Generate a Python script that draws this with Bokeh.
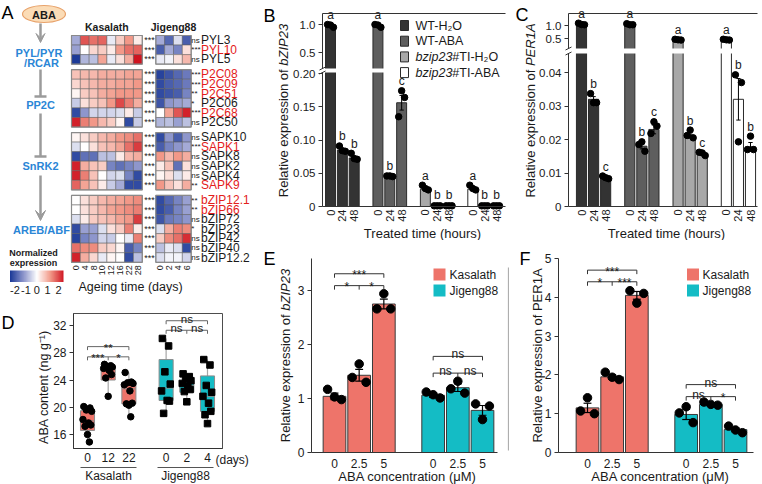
import numpy as np
from math import pi
from bokeh.plotting import figure
from bokeh.layouts import row, column
from bokeh.models import (Range1d, Label, FixedTicker, LinearAxis, LinearColorMapper,
                          Arrow, VeeHead, TeeHead, ColumnDataSource)
from bokeh.core.properties import value
from bokeh.embed import file_html
from bokeh.resources import INLINE

FONT = "Liberation Sans"
INK = "#1a1a1a"

# ======================= DATA =======================
# ---- Panel A (normalized expression heat map) ----
KAS_DAYS = ["0", "4", "8", "10", "12", "16", "22", "28"]
JIG_DAYS = ["0", "2", "4", "6"]
PATHWAY = ["PYL/PYR", "/RCAR", "PP2C", "SnRK2", "AREB/ABF"]
GENES_PYL = ["PYL3", "PYL10", "PYL5"]
GENES_PP2C = ["P2C08", "P2C09", "P2C51", "P2C06", "P2C68", "P2C50"]
GENES_SNRK2 = ["SAPK10", "SAPK1", "SAPK8", "SAPK2", "SAPK4", "SAPK9"]
GENES_AREB = ["bZIP12.1", "bZIP66", "bZIP72", "bZIP23", "bZIP42", "bZIP40", "bZIP12.2"]
RED_GENES = ["PYL10", "P2C08", "P2C09", "P2C51", "P2C68", "SAPK1", "SAPK9", "bZIP12.1", "bZIP66"]

KAS_PYL = [[-0.8, 1.5, 1.3, 1.4, -0.2, 0.5, 1.0, 0.2],
           [-0.9, 0.0, 0.4, 0.5, 0.2, 1.0, 1.3, 1.4],
           [-2.0, -0.7, -0.6, 0.9, -0.2, 0.3, 0.8, 2.0]]
KAS_PP2C = [[0.6, 0.7, 0.7, 0.8, 0.8, 0.8, 0.9, 0.9],
            [0.4, 0.6, 0.7, 0.8, 0.8, 0.9, 0.9, 1.0],
            [0.1, 0.5, 0.6, 0.8, 0.9, 1.0, 1.0, 1.0],
            [-0.5, 0.3, 0.5, 0.6, 1.0, 1.6, 1.2, 0.8],
            [-1.8, -1.0, -0.4, -0.4, -0.4, -0.3, 0.2, -0.5],
            [1.9, 1.2, 1.0, 0.7, 0.5, 0.1, -1.8, -0.5]]
KAS_SNRK2 = [[0.1, 0.3, 0.5, 0.7, 0.8, 1.0, 1.1, 1.3],
             [-0.3, 0.0, 0.3, 0.6, 0.7, 0.9, 1.3, 1.7],
             [-1.8, -1.4, -1.4, -0.6, -0.6, 0.2, 0.7, 0.8],
             [1.9, 0.8, 0.6, 0.5, -1.2, -1.4, -1.2, -1.0],
             [1.9, 1.2, 0.6, 0.0, -0.4, -0.3, -1.2, -1.8],
             [1.4, 0.9, 0.6, 0.2, -0.5, -0.8, -1.8, -1.8]]
KAS_AREB = [[0.0, 0.3, 0.5, 0.7, 0.8, 0.9, 1.0, 1.1],
            [0.0, 0.3, 0.5, 0.7, 0.9, 1.0, 1.1, 1.2],
            [-0.3, 0.2, 0.5, 0.6, 0.7, 0.9, 1.0, 1.7],
            [-1.8, -0.9, -0.9, -0.3, 0.3, 0.5, 1.2, 0.2],
            [-1.9, -1.2, -1.0, -0.4, -0.5, 0.0, -0.2, 1.2],
            [1.3, 1.1, 1.1, 0.5, 0.4, 0.1, -1.6, -1.2],
            [1.9, 0.8, 0.4, -0.2, 0.1, 0.0, -1.8, -0.6]]
JIG_PYL = [[-0.8, -1.5, -0.3, -1.6],
           [-1.6, -0.8, -1.2, 0.3],
           [-0.2, -0.1, 0.3, 0.7]]
JIG_PP2C = [[-1.9, -1.7, -1.5, -1.3],
            [-1.8, -1.6, -1.5, -1.3],
            [-1.8, -1.7, -1.6, -1.2],
            [-1.7, -1.0, -0.9, -0.8],
            [0.0, 0.9, 1.5, 1.9],
            [-0.7, -0.6, -0.9, -0.6]]
JIG_SNRK2 = [[-1.8, -1.0, -1.6, -1.0],
             [-1.6, -1.2, -1.0, -0.8],
             [1.0, 0.7, 1.0, 0.8],
             [0.2, 0.6, -1.4, 0.3],
             [0.1, 0.3, -0.3, 0.2],
             [1.0, 0.6, 0.3, 0.8]]
JIG_AREB = [[-1.8, -1.5, -1.2, -0.9],
            [-1.8, -1.6, -1.2, -0.9],
            [-1.7, -1.3, -1.2, -1.0],
            [-0.3, 0.8, 1.2, 1.1],
            [0.5, 1.1, 1.3, 1.8],
            [-0.6, -0.2, -0.3, -1.8],
            [-0.3, -0.1, -0.1, -0.4]]
KAS_SIG_PYL = ["***", "***", "***"]
KAS_SIG_PP2C = ["***", "***", "***", "***", "***", "***"]
KAS_SIG_SNRK2 = ["***", "***", "***", "***", "***", "***"]
KAS_SIG_AREB = ["***", "***", "***", "***", "***", "***", "***"]
JIG_SIG_PYL = ["ns", "***", "ns"]
JIG_SIG_PP2C = ["***", "***", "**", "*", "***", "ns"]
JIG_SIG_SNRK2 = ["ns", "***", "ns", "ns", "ns", "**"]
JIG_SIG_AREB = ["**", "**", "ns", "*", "ns", "ns", "ns"]
CBAR_TICKS = [-2, -1, 0, 1, 2]

# ---- Panels B and C ----
TREAT_GENO = ["WT", "WT", "bzip23", "bzip23"]
TREAT_SUFFIX = ["-H\u2082O", "-ABA", "#TI-H\u2082O", "#TI-ABA"]
HOURS = ["0", "24", "48"]
B_MEAN = [[0.975, 0.085, 0.073], [0.975, 0.045, 0.156], [0.026, 0.002, 0.002], [0.026, 0.002, 0.002]]
B_ERR = [[0.012, 0.002, 0.003], [0.012, 0.001, 0.011], [0.002, 0.0005, 0.0005], [0.002, 0.0005, 0.0005]]
B_REPS = [[[1.0, 0.99, 0.95], [0.091, 0.084, 0.083], [0.080, 0.072, 0.071]],
          [[1.0, 0.99, 0.95], [0.046, 0.046, 0.045], [0.135, 0.174, 0.164]],
          [[0.032, 0.027, 0.025], [0.001, 0.001, 0.001], [0.001, 0.001, 0.001]],
          [[0.032, 0.027, 0.025], [0.001, 0.001, 0.001], [0.001, 0.001, 0.001]]]
B_LETTERS = [["a", "b", "b"], ["a", "b", "c"], ["a", "b", "b"], ["a", "b", "b"]]
C_MEAN = [[1.05, 0.032, 0.0086], [1.03, 0.018, 0.023], [0.45, 0.021, 0.0157], [0.44, 0.032, 0.0178]]
C_ERR = [[0.02, 0.0008, 0.0002], [0.01, 0.0008, 0.0013], [0.01, 0.0006, 0.0003], [0.01, 0.0062, 0.0013]]
C_REPS = [[[1.09, 1.04, 1.03], [0.0337, 0.031, 0.031], [0.0091, 0.0086, 0.0083]],
          [[1.07, 1.03, 1.03], [0.0185, 0.0193, 0.0165], [0.0218, 0.0253, 0.024]],
          [[0.47, 0.45, 0.44], [0.0212, 0.0228, 0.0205], [0.0162, 0.016, 0.0152]],
          [[0.47, 0.45, 0.44], [0.0393, 0.0193, 0.037], [0.017, 0.021, 0.017]]]
C_LETTERS = [["a", "b", "c"], ["a", "b", "c"], ["a", "b", "c"], ["a", "b", "b"]]
B_TICKS_LO = [0, 0.05, 0.10, 0.15, 0.20]
B_TICKS_UP = [0.5, 1.0]
C_TICKS_LO = [0, 0.01, 0.02, 0.03, 0.04]
C_TICKS_UP = [0.5, 1.0]

# ---- Panel D (ABA content box plots) ----
D_LABELS = ["0", "12", "22", "0", "2", "4"]
D_CULTIVAR = ["Kasalath", "Kasalath", "Kasalath", "Jigeng88", "Jigeng88", "Jigeng88"]
D_Q1 = [16.6, 24.0, 20.5, 21.0, 22.2, 19.4]
D_MED = [18.0, 25.6, 22.7, 22.8, 23.2, 21.6]
D_Q3 = [19.5, 26.0, 23.5, 27.0, 23.9, 24.6]
D_LO = [14.9, 21.6, 18.6, 19.1, 20.8, 17.6]
D_HI = [20.1, 26.3, 25.1, 30.1, 24.9, 27.0]
D_POINTS = [[20.1, 19.9, 19.6, 19.4, 18.2, 17.7, 17.4, 17.2, 16.0, 14.9],
            [26.3, 26.1, 26.0, 25.9, 25.7, 25.4, 24.8, 24.3, 21.6],
            [25.1, 23.7, 23.6, 23.5, 23.3, 22.4, 20.6, 20.5, 20.3, 18.6],
            [30.1, 29.0, 25.2, 23.4, 22.4, 21.0, 20.9, 19.1],
            [24.9, 24.5, 24.2, 23.9, 23.5, 23.2, 22.6, 22.3, 20.8],
            [27.0, 26.2, 23.2, 22.2, 21.6, 20.6, 19.4, 18.9, 17.6]]
D_TICKS = [16, 20, 24, 28, 32]
D_SIG = [["***", "*", "**"], ["ns", "ns", "ns"]]
D_SIG_Y = [[27.4, 28.9], [31.3, 32.7]]

# ---- Panels E and F ----
CONC = ["0", "2.5", "5"]
E_KAS_MEAN = [1.04, 1.43, 2.75]
E_KAS_ERR = [0.06, 0.11, 0.09]
E_KAS_REPS = [[1.17, 1.03, 0.98], [1.39, 1.64, 1.30], [2.66, 2.94, 2.66]]
E_JIG_MEAN = [1.06, 1.20, 0.78]
E_JIG_ERR = [0.04, 0.07, 0.09]
E_JIG_REPS = [[1.12, 1.07, 1.01], [1.18, 1.32, 1.10], [0.90, 0.61, 0.86]]
E_SIG = [["*", "*", "***"], ["ns", "ns", "ns"]]
E_SIG_Y = [[3.09, 3.31], [1.47, 1.78]]
E_TICKS = [0, 1, 2, 3]
F_KAS_MEAN = [1.15, 1.95, 4.05]
F_KAS_ERR = [0.12, 0.06, 0.10]
F_KAS_REPS = [[1.07, 1.41, 1.00], [2.07, 1.94, 1.88], [4.17, 3.85, 4.10]]
F_JIG_MEAN = [0.98, 1.24, 0.59]
F_JIG_ERR = [0.13, 0.03, 0.04]
F_JIG_REPS = [[1.02, 1.18, 0.77], [1.30, 1.24, 1.22], [0.68, 0.58, 0.51]]
F_SIG = [["*", "***", "***"], ["ns", "*", "ns"]]
F_SIG_Y = [[4.40, 4.70], [1.44, 1.75]]
F_TICKS = [0, 1, 2, 3, 4, 5]

# ======================= STYLE HELPERS =======================
KAS_COL = "#EE746A"
JIG_COL = "#14BCC5"
TREAT_COLS = ["#333333", "#5e5e5e", "#a8a8a8", "#ffffff"]
BLUE_TXT = "#2a86d6"
RED_TXT = "#e3201b"
AXIS_COL = "#333333"

ARIAL = {" ": 278, "R": 722, "e": 556, "l": 222, "a": 556, "t": 278, "i": 222, "v": 500,
         "x": 500, "p": 556, "r": 333, "s": 500, "o": 556, "n": 556, "f": 278, "b": 556,
         "z": 500, "Z": 611, "I": 278, "P": 667, "E": 667, "A": 667, "W": 944, "T": 611,
         "H": 722, "O": 778, "B": 667, "#": 556, "-": 333, "1": 556, "2": 556, "3": 556}


def text_w(s, size):
    return sum(ARIAL.get(c, 556) for c in s) * size / 1000.0


class Canvas:
    """A figure whose frame is the whole canvas; data ranges are set so that the
    plot area (px_x, px_y in canvas pixels) shows the data interval (dx, dy)."""
    def __init__(self, w, h, px_x, dx, px_y, dy):
        self.w, self.h = w, h
        self.sx = (dx[1] - dx[0]) / (px_x[1] - px_x[0])
        self.x0 = dx[0] - px_x[0] * self.sx
        self.sy = (dy[1] - dy[0]) / (px_y[0] - px_y[1])
        self.ytop = dy[1] + px_y[1] * self.sy
        self.p = figure(width=w, height=h, x_range=Range1d(self.x0, self.x0 + w * self.sx),
                        y_range=Range1d(self.ytop - h * self.sy, self.ytop),
                        output_backend="svg", toolbar_location=None, min_border=0,
                        frame_align=False, x_axis_location=None, y_axis_location=None)
        self.p.grid.visible = False
        self.p.outline_line_color = None
        self.extra = {}

    def add_range(self, name, px_y, dy):
        s = (dy[1] - dy[0]) / (px_y[0] - px_y[1])
        top = dy[1] + px_y[1] * s
        self.p.extra_y_ranges = {**self.p.extra_y_ranges, name: Range1d(top - self.h * s, top)}
        self.extra[name] = (s, top)

    def X(self, px):
        return self.x0 + px * self.sx

    def Y(self, py, rng=None):
        if rng:
            s, top = self.extra[rng]
            return top - py * s
        return self.ytop - py * self.sy

    def ppu(self, rng=None):
        return 1.0 / (self.extra[rng][0] if rng else self.sy)

    def text(self, px, py, t, size="13px", style="normal", align="left", baseline="middle",
             angle=0.0, color=INK):
        self.p.add_layout(Label(x=self.X(px), y=self.Y(py), text=t, angle=angle, text_align=align,
                                text_baseline=baseline, text_font=FONT, text_font_size=size,
                                text_font_style=style, text_color=color))

    def ylabel(self, parts, px, py_center, size=13):
        total = sum(text_w(t, size) for t, _ in parts)
        y = py_center + total / 2
        for t, style in parts:
            self.text(px, y, t, size=f"{size}px", style=style, angle=pi / 2)
            y -= text_w(t, size)

    def letter(self, t, px, py):
        self.text(px, py, t, size="18px", baseline="top", color="black")

    def axis(self, side, fixed, bounds, ticks, labels=None, size="11.5px", rng=None,
             tick_out=4, standoff=3, orientation="horizontal"):
        ax = LinearAxis(fixed_location=fixed, bounds=bounds, ticker=FixedTicker(ticks=ticks),
                        major_label_text_font=FONT, major_label_text_font_size=size,
                        major_label_text_color=INK, axis_line_color=AXIS_COL,
                        major_tick_line_color=AXIS_COL, minor_tick_line_color=None,
                        major_tick_in=0, major_tick_out=tick_out, major_label_standoff=standoff,
                        major_label_orientation=orientation)
        if labels is not None:
            ax.major_label_overrides = {float(t): l for t, l in zip(ticks, labels)}
        if rng:
            ax.y_range_name = rng
        self.p.add_layout(ax, side)
        return ax


def lerp_palette(stops, n=256):
    vals = np.linspace(stops[0][0], stops[-1][0], n)
    xs = [s[0] for s in stops]
    rgb = [[int(s[1][i:i + 2], 16) for i in (1, 3, 5)] for s in stops]
    out = []
    for v in vals:
        c = [np.interp(v, xs, [r[k] for r in rgb]) for k in range(3)]
        out.append("#%02x%02x%02x" % tuple(int(round(q)) for q in c))
    return out


def sig_brackets(c, xs3, labels, ys, color="#333333", tick_px=3.5, size="11.5px"):
    p = c.p
    ppu = c.ppu()
    x1, x2, x3 = xs3
    t = tick_px / ppu
    yl, yh = ys
    p.multi_line(xs=[[x1, x1, x3, x3], [x2, x2], [x1, x1, x3, x3]],
                 ys=[[yl - t, yl, yl, yl - t], [yl, yl - t], [yh - t, yh, yh, yh - t]],
                 line_color=color, line_width=1)
    lx = [(x1 + x2) / 2, (x2 + x3) / 2, x2]
    ly = [yl, yl, yh]
    for xx, yy, lab in zip(lx, ly, labels):
        off = (-1.5 if "*" in lab else 2.0) / ppu
        p.text(x=[xx], y=[yy + off], text=[lab], text_font=value(FONT), text_font_size=size,
               text_align="center", text_baseline="alphabetic", text_color=INK)


# ======================= PANEL A =======================
pA = figure(width=262, height=300, x_range=Range1d(0, 262), y_range=Range1d(300, 0),
            output_backend="svg", toolbar_location=None, x_axis_location=None,
            y_axis_location=None, min_border=0, frame_align=False)
pA.grid.visible = False
pA.outline_line_color = None

PAL = lerp_palette([(-2, "#1c3a98"), (-1, "#8e96cc"), (0, "#ffffff"), (1, "#f29a89"), (2, "#cf1420")])
mapper = LinearColorMapper(palette=PAL, low=-2, high=2)

KX0, JX0, CW = 71.0, 155.3, 8.85
HY0, RH, GAP = 35.0, 9.56, 5.5

groups = [(GENES_PYL, KAS_PYL, JIG_PYL, KAS_SIG_PYL, JIG_SIG_PYL),
          (GENES_PP2C, KAS_PP2C, JIG_PP2C, KAS_SIG_PP2C, JIG_SIG_PP2C),
          (GENES_SNRK2, KAS_SNRK2, JIG_SNRK2, KAS_SIG_SNRK2, JIG_SIG_SNRK2),
          (GENES_AREB, KAS_AREB, JIG_AREB, KAS_SIG_AREB, JIG_SIG_AREB)]
cx, cy, cv = [], [], []
gx, gy, gt, gc = [], [], [], []
sx, sy, st = [], [], []
jx, jy, jt = [], [], []
bx, by, bw, bh = [], [], [], []
r = 0
for g, (genes, kas, jig, ksig, jsig) in enumerate(groups):
    top = HY0 + r * RH + g * GAP
    bx += [KX0 + len(KAS_DAYS) * CW / 2, JX0 + len(JIG_DAYS) * CW / 2]
    by += [top + len(genes) * RH / 2] * 2
    bw += [len(KAS_DAYS) * CW, len(JIG_DAYS) * CW]
    bh += [len(genes) * RH] * 2
    for i, gene in enumerate(genes):
        y = HY0 + (r + 0.5) * RH + g * GAP
        for j, v in enumerate(kas[i]):
            cx.append(KX0 + (j + 0.5) * CW); cy.append(y); cv.append(v)
        for k, v in enumerate(jig[i]):
            cx.append(JX0 + (k + 0.5) * CW); cy.append(y); cv.append(v)
        gx.append(200.5); gy.append(y); gt.append(gene)
        gc.append(RED_TXT if gene in RED_GENES else INK)
        sx.append(149.0); sy.append(y); st.append(ksig[i])
        jx.append(190.8); jy.append(y); jt.append(jsig[i])
        r += 1
heat_bottom = HY0 + r * RH + (len(groups) - 1) * GAP

src_cells = ColumnDataSource(dict(x=cx, y=cy, v=cv))
pA.rect(x="x", y="y", width=CW, height=RH, source=src_cells,
        fill_color={"field": "v", "transform": mapper}, line_color="#5a5a5a", line_width=0.5)
pA.rect(x=bx, y=by, width=bw, height=bh, fill_alpha=0, line_color="#8a8a8a", line_width=1.2)
pA.text(x=gx, y=gy, text=gt, text_color=gc, text_font=value(FONT), text_font_size="12px",
        text_baseline="middle", text_align="left")
pA.text(x=sx, y=sy, text=st, text_color=INK, text_font=value(FONT), text_font_size="9px",
        text_baseline="middle", text_align="center")
pA.text(x=jx, y=jy, text=jt, text_color=INK, text_font=value(FONT), text_font_size="8px",
        text_baseline="middle", text_align="left")
pA.text(x=[KX0 + len(KAS_DAYS) * CW / 2, JX0 + len(JIG_DAYS) * CW / 2], y=[26, 26],
        text=["Kasalath", "Jigeng88"], text_font=value(FONT), text_font_size="10.5px",
        text_font_style="bold", text_align="center", text_baseline="middle", text_color=INK)
dxs = [KX0 + (j + 0.5) * CW for j in range(len(KAS_DAYS))] + [JX0 + (k + 0.5) * CW for k in range(len(JIG_DAYS))]
pA.text(x=dxs, y=[heat_bottom + 3] * len(dxs), text=KAS_DAYS + JIG_DAYS, angle=pi / 2,
        text_font=value(FONT), text_font_size="9px", text_align="right", text_baseline="middle",
        text_color=INK)
pA.text(x=[130], y=[286], text=["Ageing time (days)"], text_font=value(FONT),
        text_font_size="12.5px", text_align="center", text_baseline="middle", text_color=INK)

pA.ellipse(x=[43.5], y=[13.5], width=43, height=17, fill_color="#fbdcb6", line_color="#e8a36c",
           line_width=1.2)
pA.text(x=[43.5], y=[14], text=["ABA"], text_font=value(FONT), text_font_size="11px",
        text_font_style="bold", text_align="center", text_baseline="middle", text_color=INK)
pA.text(x=[38.5, 41, 40, 40, 41], y=[52, 62, 104, 165, 229], text=PATHWAY,
        text_font=value(FONT), text_font_size="11px", text_font_style="bold",
        text_align="center", text_baseline="middle", text_color=BLUE_TXT)
GREY = "#9b9b9b"
pA.add_layout(Arrow(x_start=40, y_start=23, x_end=40, y_end=42, line_color=GREY, line_width=2.5,
                    end=VeeHead(size=9, fill_color=GREY, line_color=GREY)))
pA.add_layout(Arrow(x_start=40, y_start=69, x_end=40, y_end=96, line_color=GREY, line_width=2.5,
                    end=TeeHead(size=12, line_color=GREY, line_width=2.5)))
pA.add_layout(Arrow(x_start=40, y_start=113, x_end=40, y_end=156, line_color=GREY, line_width=2.5,
                    end=TeeHead(size=12, line_color=GREY, line_width=2.5)))
pA.add_layout(Arrow(x_start=40, y_start=175, x_end=40, y_end=220, line_color=GREY, line_width=2.5,
                    end=VeeHead(size=10, fill_color=GREY, line_color=GREY)))
CB_X0, CB_W, CB_Y0, CB_H = 9.5, 53.5, 270, 11.5
pA.image(image=[np.linspace(-2, 2, 200).reshape(1, -1)], x=CB_X0, y=CB_Y0, dw=CB_W, dh=CB_H,
         color_mapper=mapper)
pA.text(x=[33, 33], y=[252.5, 262.5], text=["Normalized", "expression"], text_font=value(FONT),
        text_font_size="9px", text_font_style="bold", text_align="center",
        text_baseline="middle", text_color=INK)
pA.text(x=[CB_X0 + 5 + (t + 2) / 4 * (CB_W - 10) for t in CBAR_TICKS], y=[289.5] * 5,
        text=[str(t) for t in CBAR_TICKS], text_font=value(FONT), text_font_size="11px",
        text_align="center", text_baseline="middle", text_color=INK)
pA.text(x=[1], y=[2], text=["A"], text_font=value(FONT), text_font_size="18px",
        text_align="left", text_baseline="top", text_color="black")


# ======================= PANELS B / C =======================
def broken_panel(w, px_x, xpos_px, lo_map, lo_vis_top, up_map, up_vis, means, errs, reps, letters,
                 ticks_lo, ticks_up, fmt_lo, gene, ylab_x, xlab_x, let_px, legend):
    H = 240
    (p0, v0), (p1, v1) = lo_map
    c = Canvas(w, H, xpos_px, (0, 14), (p0, p1), (v0, v1))
    (u0, w0), (u1, w1) = up_map
    c.add_range("up", (u0, u1), (w0, w1))
    p = c.p
    gap_top_px, gap_bot_px = up_vis[1], lo_vis_top
    gap_mid = (gap_top_px + gap_bot_px) / 2
    lo_limit = c.Y(lo_vis_top)          # highest value visible in the lower part
    offs = [-0.25, 0.0, 0.25]
    for g in range(4):
        xs = [4 * g + i for i in range(3)]
        m = np.array(means[g])
        p.vbar(x=xs, width=0.84, bottom=0, top=np.minimum(m, c.Y(gap_mid)),
               fill_color=TREAT_COLS[g], line_color="#2b2b2b", line_width=1)
        hi = [i for i in range(3) if m[i] > lo_limit]
        if hi:
            p.vbar(x=[xs[i] for i in hi], width=0.84, bottom=c.Y(gap_mid, "up"),
                   top=[m[i] for i in hi], y_range_name="up", fill_color=TREAT_COLS[g],
                   line_color="#2b2b2b", line_width=1)
    # white gap of the broken axis
    p.quad(left=[c.X(px_x[0] + 0.5)], right=[c.X(w)], bottom=[c.Y(gap_bot_px)],
           top=[c.Y(gap_top_px)], fill_color="white", line_color=None)
    for g in range(4):
        xs = [4 * g + i for i in range(3)]
        m = np.array(means[g]); e = np.array(errs[g])
        for i in range(3):
            upper = m[i] > lo_limit
            rng = "up" if upper else None
            kw = {"y_range_name": "up"} if upper else {}
            p.segment(x0=[xs[i]], x1=[xs[i]], y0=[m[i] - e[i]], y1=[m[i] + e[i]],
                      line_color="black", line_width=1, **kw)
            p.segment(x0=[xs[i] - 0.18, xs[i] - 0.18], x1=[xs[i] + 0.18, xs[i] + 0.18],
                      y0=[m[i] - e[i], m[i] + e[i]], y1=[m[i] - e[i], m[i] + e[i]],
                      line_color="black", line_width=1, **kw)
            p.scatter(x=[xs[i] + o for o in offs], y=reps[g][i], size=6.5, marker="circle",
                      fill_color="black", line_color="black", **kw)
            top = max(max(reps[g][i]), m[i] + e[i])
            pad = 2.5 / c.ppu(rng)
            p.text(x=[xs[i]], y=[top + pad], text=[letters[g][i]], text_font=value(FONT),
                   text_font_size="12px", text_align="center", text_baseline="bottom",
                   text_color=INK, **kw)
    left, right = c.X(px_x[0]), c.X(px_x[1])
    # top border
    p.segment(x0=[left], x1=[right], y0=[c.Y(up_vis[0], "up")], y1=[c.Y(up_vis[0], "up")],
              y_range_name="up", line_color=AXIS_COL, line_width=1)
    # break marks on the axis
    for py in (gap_top_px, gap_bot_px):
        p.segment(x0=[c.X(px_x[0] - 3)], x1=[c.X(px_x[0] + 3)], y0=[c.Y(py + 1.5)],
                  y1=[c.Y(py - 1.5)], line_color=AXIS_COL, line_width=1)
    c.axis("left", left, (0, lo_limit), ticks_lo, fmt_lo)
    c.axis("left", left, (c.Y(up_vis[1], "up"), c.Y(up_vis[0], "up")), ticks_up,
           [f"{t:.1f}" for t in ticks_up], rng="up")
    xt = [4 * g + i for g in range(4) for i in range(3)]
    c.axis("below", 0, (left, right), xt, [HOURS[t % 4] for t in xt], size="11px",
           tick_out=0, standoff=3, orientation=pi / 2)
    c.text(xlab_x, 233, "Treated time (hours)", size="13px", align="center")
    c.ylabel([("Relative expression of ", "normal"), (gene, "italic")], ylab_x, 110)
    c.letter(let_px[0], let_px[1], let_px[2])
    if legend:
        kx, ky0, dy, lx = legend
        for g in range(4):
            yy = ky0 + g * dy
            p.rect(x=[c.X(kx)], y=[c.Y(yy)], width=8 * c.sx, height=10 * c.sy,
                   fill_color=TREAT_COLS[g], line_color="#2b2b2b", line_width=1)
            if TREAT_GENO[g] == "WT":
                c.text(lx, yy, TREAT_GENO[g] + TREAT_SUFFIX[g], size="12.5px")
            else:
                c.text(lx, yy, TREAT_GENO[g], size="12.5px", style="italic")
                c.text(lx + text_w(TREAT_GENO[g], 12.5), yy, TREAT_SUFFIX[g], size="12.5px")
    return p


pB = broken_panel(252, (60, 243), (68, 234), ((206, 0.0), (73, 0.20)), 72, ((52, 0.5), (24, 1.0)),
                  (13, 68), B_MEAN, B_ERR, B_REPS, B_LETTERS, B_TICKS_LO, B_TICKS_UP,
                  ["0", "0.05", "0.10", "0.15", "0.20"], "bZIP23", 21, 160, ("B", 1, 5),
                  (142, 25, 15.7, 153))
pC = broken_panel(248, (54, 243), (67, 236), ((206, 0.0), (72, 0.04)), 53, ((38, 0.5), (25, 1.0)),
                  (13, 48), C_MEAN, C_ERR, C_REPS, C_LETTERS, C_TICKS_LO, C_TICKS_UP,
                  ["0", "0.01", "0.02", "0.03", "0.04"], "PER1A", 16, 152, ("C", 1, 4), None)

# ======================= PANEL D =======================
DPOS = [1, 2, 3, 4.8, 5.8, 6.8]
cD = Canvas(262, 184, (87, 207), (1, 6.8), (134, 25), (16, 32))
pD = cD.p
DL, DR, DT, DB = cD.X(73), cD.X(222), cD.Y(13), cD.Y(148)
box_cols = [KAS_COL if k == "Kasalath" else JIG_COL for k in D_CULTIVAR]
pD.segment(x0=DPOS, x1=DPOS, y0=D_LO, y1=D_Q1, line_color="#a6a6a6", line_width=1.2)
pD.segment(x0=DPOS, x1=DPOS, y0=D_Q3, y1=D_HI, line_color="#a6a6a6", line_width=1.2)
pD.vbar(x=DPOS, width=0.68, bottom=D_Q1, top=D_Q3, fill_color=box_cols, line_color="#8c8c8c",
        line_width=1)
pD.segment(x0=[x - 0.34 for x in DPOS], x1=[x + 0.34 for x in DPOS], y0=D_MED, y1=D_MED,
           line_color="#8c8c8c", line_width=1)
JIT = [-0.18, 0.12, -0.06, 0.2, -0.22, 0.05, 0.16, -0.12, 0.0, 0.09]
for k, pts in enumerate(D_POINTS):
    mk = "circle" if D_CULTIVAR[k] == "Kasalath" else "square"
    pD.scatter(x=[DPOS[k] + JIT[i] for i in range(len(pts))], y=pts, marker=mk, size=6.5,
               fill_color="black", line_color="black")
sig_brackets(cD, DPOS[0:3], D_SIG[0], D_SIG_Y[0], color="#666666")
sig_brackets(cD, DPOS[3:6], D_SIG[1], D_SIG_Y[1], color="#666666")
pD.quad(left=[DL], right=[DR], bottom=[DB], top=[DT], fill_alpha=0, line_color="#4d4d4d",
        line_width=1)
cD.axis("left", DL, (DB, DT), D_TICKS, [str(t) for t in D_TICKS], size="12px")
cD.axis("below", DB, (DL, DR), DPOS, D_LABELS, size="12px", tick_out=0, standoff=4)
cD.text(215, 159, "(days)", size="12px")
for (a, b, name) in [(80, 136, "Kasalath"), (157, 213, "Jigeng88")]:
    pD.segment(x0=[cD.X(a)], x1=[cD.X(b)], y0=[cD.Y(167)], y1=[cD.Y(167)], line_color="#555555",
               line_width=1)
    cD.text((a + b) / 2, 175, name, size="12px", align="center")
cD.ylabel([("ABA content (ng g\u207b\u00b9)", "normal")], 43, 80.5, 12.5)
cD.letter("D", 1, 12)


# ======================= PANELS E / F =======================
def conc_panel(w, px_x, xmap, ymax, ymax_px, km, ke, kr, jm, je, jr, sig, sig_y, yticks,
               ylab_parts, ylab_x, xlab_x, let_px, leg, edge_line=False):
    H = 244
    c = Canvas(w, H, xmap[0], xmap[1], (212, ymax_px), (0, ymax))
    p = c.p
    offs = [-0.28, 0.0, 0.28]
    for pos, mean, err, reps, col in [([1, 2, 3], km, ke, kr, KAS_COL), ([5, 6, 7], jm, je, jr, JIG_COL)]:
        p.vbar(x=pos, width=0.92, bottom=0, top=mean, fill_color=col, line_color="#3a3a3a",
               line_width=1)
        lo = [m - e for m, e in zip(mean, err)]
        hi = [m + e for m, e in zip(mean, err)]
        p.segment(x0=pos, x1=pos, y0=lo, y1=hi, line_color="black", line_width=1.2)
        p.segment(x0=[x - 0.16 for x in pos] * 2, x1=[x + 0.16 for x in pos] * 2, y0=lo + hi,
                  y1=lo + hi, line_color="black", line_width=1.2)
        for x, rp in zip(pos, reps):
            p.scatter(x=[x + o for o in offs], y=rp, size=8.5, marker="circle",
                      fill_color="black", line_color="black")
    sig_brackets(c, [1, 2, 3], sig[0], sig_y[0], color="#333333", tick_px=4, size="12px")
    sig_brackets(c, [5, 6, 7], sig[1], sig_y[1], color="#333333", tick_px=4, size="12px")
    left, right = c.X(px_x[0]), c.X(px_x[1])
    c.axis("left", left, (0, c.Y(18)), yticks, [str(t) for t in yticks], size="12px")
    c.axis("below", 0, (left, right), [1, 2, 3, 5, 6, 7], CONC + CONC, size="12px", tick_out=0,
           standoff=6)
    c.text(xlab_x, 236, "ABA concentration (\u03bcM)", size="13px", align="center")
    kx, lx = leg
    for yy, col, name in [(34, KAS_COL, "Kasalath"), (50, JIG_COL, "Jigeng88")]:
        p.rect(x=[c.X(kx)], y=[c.Y(yy)], width=12 * c.sx, height=12 * c.sy, fill_color=col,
               line_color=None)
        c.text(lx, yy, name, size="12px")
    c.ylabel(ylab_parts, ylab_x, 115)
    c.letter(let_px[0], let_px[1], let_px[2])
    if edge_line:
        p.segment(x0=[c.X(0.8)], x1=[c.X(0.8)], y0=[c.Y(27)], y1=[c.Y(210)], line_color="#9a9a9a",
                  line_width=1)
    return p


pE = conc_panel(245, (49, 235), ((72, 220), (1, 7)), 3.0, 50, E_KAS_MEAN, E_KAS_ERR, E_KAS_REPS,
                E_JIG_MEAN, E_JIG_ERR, E_JIG_REPS, E_SIG, E_SIG_Y, E_TICKS,
                [("Relative expression of ", "normal"), ("bZIP23", "italic")], 23, 145,
                ("E", 1, 8), (177, 187))
pF = conc_panel(255, (51, 246), ((80, 228), (1, 7)), 5.0, 18, F_KAS_MEAN, F_KAS_ERR, F_KAS_REPS,
                F_JIG_MEAN, F_JIG_ERR, F_JIG_REPS, F_SIG, F_SIG_Y, F_TICKS,
                [("Relative expression of PER1A", "normal")], 30, 153, ("F", 12, 8), (185.5, 195),
                edge_line=True)

layout = row(column(pA, pD), column(row(pB, pC), row(pE, pF)))
open("out.html", "w").write(file_html(layout, INLINE))
